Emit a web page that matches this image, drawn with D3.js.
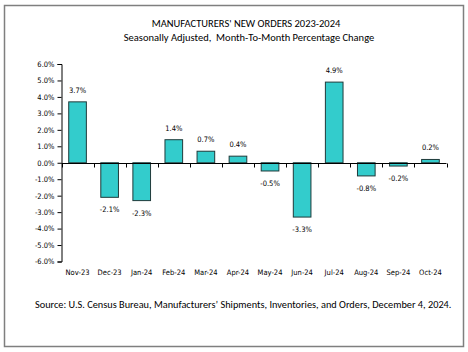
<!DOCTYPE html>
<html>
<head>
<meta charset="utf-8">
<script src="https://cdn.jsdelivr.net/npm/d3@7"></script>
<style>
  body { margin: 0; background: #fff; }
  svg { display: block; }
</style>
</head>
<body>
<svg id="chart"></svg>
<script>
// Chart values
const months = ["Nov-23", "Dec-23", "Jan-24", "Feb-24", "Mar-24", "Apr-24",
                "May-24", "Jun-24", "Jul-24", "Aug-24", "Sep-24", "Oct-24"];
const changes = [3.7, -2.1, -2.3, 1.4, 0.7, 0.4, -0.5, -3.3, 4.9, -0.8, -0.2, 0.2];
const yTicks = [6, 5, 4, 3, 2, 1, 0, -1, -2, -3, -4, -5, -6];

const width = 468, height = 352;
const svg = d3.select("#chart").attr("width", width).attr("height", height);

// outer frame
svg.append("rect")
  .attr("x", 4.5).attr("y", 5.5)
  .attr("width", 459).attr("height", 341)
  .attr("fill", "#fff")
  .attr("stroke", "#7f7f7f")
  .attr("stroke-width", 1.5);

const titleFont = "Carlito, 'Liberation Sans Narrow', 'Open Sans', sans-serif";
const tickFont = "'DejaVu Sans Condensed', 'DejaVu Sans', sans-serif";

svg.append("text")
  .attr("x", 246).attr("y", 27)
  .attr("text-anchor", "middle")
  .attr("font-family", titleFont).attr("font-size", 10.5)
  .text("MANUFACTURERS' NEW ORDERS 2023-2024");
svg.append("text")
  .attr("x", 249).attr("y", 41)
  .attr("text-anchor", "middle")
  .attr("font-family", titleFont).attr("font-size", 10.5)
  .attr("xml:space", "preserve")
  .text("Seasonally Adjusted,  Month-To-Month Percentage Change");

const x = d3.scaleBand()
  .domain(months)
  .range([61.5, 446.5])
  .paddingInner(0.45)
  .paddingOuter(0.225);

const y = d3.scaleLinear()
  .domain([-6, 6])
  .range([261.5, 64]);

// y axis
const yAxis = svg.append("g")
  .attr("transform", "translate(61.5,0)")
  .call(d3.axisLeft(y).tickValues(yTicks).tickSize(4).tickPadding(3)
    .tickFormat(d => d.toFixed(1) + "%"));
yAxis.select(".domain").attr("stroke", "#000");
yAxis.selectAll("text").attr("font-family", tickFont).attr("font-size", 7.5).attr("fill", "#000");

// bars
svg.append("g").selectAll("rect")
  .data(months)
  .join("rect")
  .attr("x", (d) => x(d))
  .attr("width", x.bandwidth())
  .attr("y", (d, i) => y(Math.max(0, changes[i])))
  .attr("height", (d, i) => Math.abs(y(changes[i]) - y(0)))
  .attr("fill", "#33CCCC")
  .attr("stroke", "#1f3a3a")
  .attr("stroke-width", 1);

// zero line with ticks below
const step = x.step();
const zeroY = Math.round(y(0)) + 0.5;
svg.append("line")
  .attr("x1", 61.5).attr("x2", 446.5)
  .attr("y1", zeroY).attr("y2", zeroY)
  .attr("stroke", "#000");
svg.append("g").selectAll("line")
  .data(d3.range(months.length + 1))
  .join("line")
  .attr("x1", i => Math.round(61.5 + i * step) + 0.5)
  .attr("x2", i => Math.round(61.5 + i * step) + 0.5)
  .attr("y1", zeroY).attr("y2", zeroY + 4)
  .attr("stroke", "#000");

// value labels
svg.append("g").selectAll("text")
  .data(months)
  .join("text")
  .attr("x", d => x(d) + x.bandwidth() / 2)
  .attr("y", (d, i) => changes[i] >= 0 ? y(changes[i]) - 9 : y(changes[i]) + 15)
  .attr("text-anchor", "middle")
  .attr("font-family", tickFont).attr("font-size", 7.5)
  .text((d, i) => changes[i].toFixed(1) + "%");

// category labels
svg.append("g").selectAll("text")
  .data(months)
  .join("text")
  .attr("x", d => x(d) + x.bandwidth() / 2)
  .attr("y", 275)
  .attr("text-anchor", "middle")
  .attr("font-family", tickFont).attr("font-size", 7.5)
  .text(d => d);

// source note
svg.append("text")
  .attr("x", 35).attr("y", 308)
  .attr("font-family", titleFont).attr("font-size", 10.3)
  .text("Source: U.S. Census Bureau, Manufacturers\u2019 Shipments, Inventories, and Orders, December 4, 2024.");
</script>
</body>
</html>
